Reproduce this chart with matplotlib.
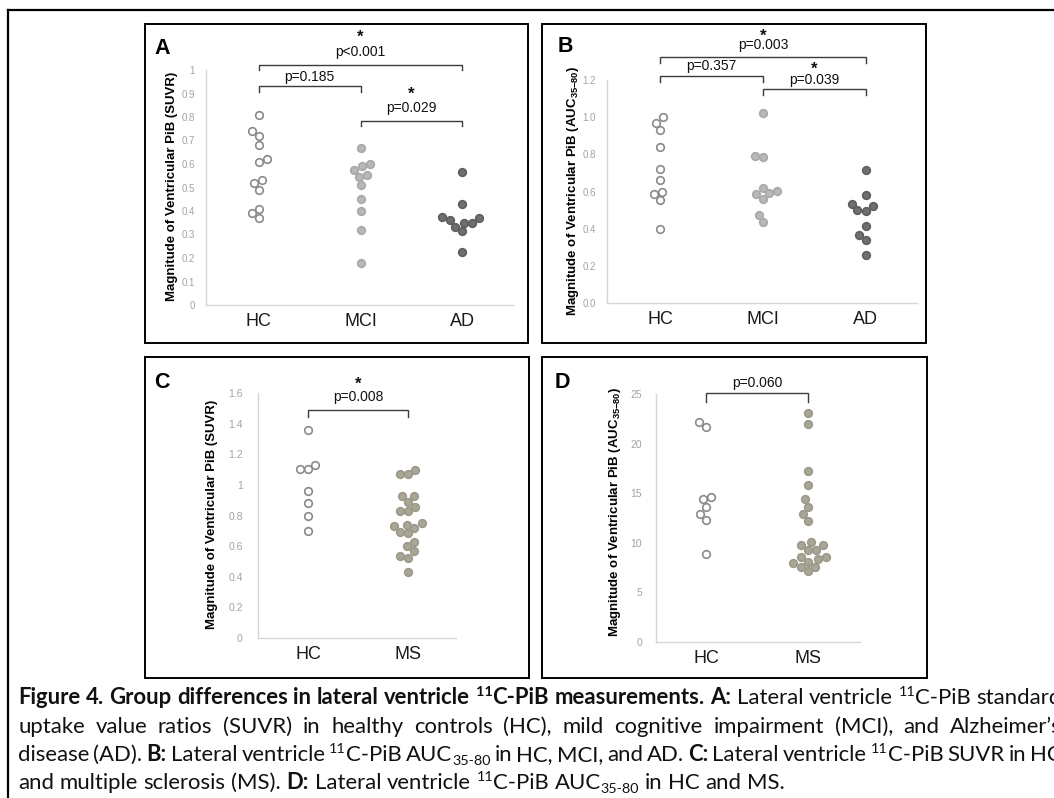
import re
import numpy as np
import matplotlib
matplotlib.use("Agg")
import matplotlib.pyplot as plt
from matplotlib.patches import Rectangle
from matplotlib.lines import Line2D

plt.rcParams['font.family'] = ['Liberation Sans', 'DejaVu Sans']
plt.rcParams['mathtext.fontset'] = 'custom'
plt.rcParams['mathtext.rm'] = 'Liberation Sans'
plt.rcParams['mathtext.bf'] = 'Liberation Sans:bold'

# ---- data ----
ab_groups = ["HC", "MCI", "AD"]
cd_groups = ["HC", "MS"]

a_hc = [0.81, 0.74, 0.72, 0.68, 0.61, 0.62, 0.53, 0.52, 0.49, 0.41, 0.39, 0.37]
a_mci = [0.67, 0.60, 0.59, 0.575, 0.555, 0.545, 0.51, 0.45, 0.40, 0.32, 0.18]
a_ad = [0.565, 0.43, 0.373, 0.369, 0.362, 0.35, 0.35, 0.333, 0.315, 0.224]
a_ticks = [0, 0.1, 0.2, 0.3, 0.4, 0.5, 0.6, 0.7, 0.8, 0.9, 1.0]
a_ticklabels = ["0", "0.1", "0.2", "0.3", "0.4", "0.5", "0.6", "0.7", "0.8", "0.9", "1"]

b_hc = [1.0, 0.97, 0.93, 0.84, 0.72, 0.66, 0.60, 0.585, 0.555, 0.40]
b_mci = [1.02, 0.79, 0.785, 0.62, 0.605, 0.59, 0.585, 0.56, 0.475, 0.435]
b_ad = [0.715, 0.58, 0.535, 0.52, 0.50, 0.495, 0.415, 0.365, 0.34, 0.26]
b_ticks = [0, 0.2, 0.4, 0.6, 0.8, 1.0, 1.2]
b_ticklabels = ["0.0", "0.2", "0.4", "0.6", "0.8", "1.0", "1.2"]

c_hc = [1.36, 1.13, 1.105, 1.105, 0.96, 0.88, 0.80, 0.70]
c_ms = [1.10, 1.07, 1.07, 0.93, 0.93, 0.89, 0.855, 0.83, 0.83, 0.75, 0.74,
        0.73, 0.72, 0.69, 0.685, 0.63, 0.60, 0.565, 0.535, 0.525, 0.43]
c_ticks = [0, 0.2, 0.4, 0.6, 0.8, 1.0, 1.2, 1.4, 1.6]
c_ticklabels = ["0", "0.2", "0.4", "0.6", "0.8", "1", "1.2", "1.4", "1.6"]

d_hc = [22.2, 21.7, 14.6, 14.4, 13.6, 12.9, 12.3, 8.85]
d_ms = [23.1, 22.0, 17.2, 15.8, 14.4, 13.6, 12.9, 12.2, 10.1, 9.8, 9.8, 9.3,
        9.3, 8.6, 8.6, 8.4, 8.1, 8.0, 7.6, 7.6, 7.2]
d_ticks = [0, 5, 10, 15, 20, 25]
d_ticklabels = ["0", "5", "10", "15", "20", "25"]

# comparisons: (group i, group j, p text, significant)
a_tests = [(0, 2, "p<0.001", True), (0, 1, "p=0.185", False), (1, 2, "p=0.029", True)]
b_tests = [(0, 2, "p=0.003", True), (0, 1, "p=0.357", False), (1, 2, "p=0.039", True)]
c_tests = [(0, 1, "p=0.008", True)]
d_tests = [(0, 1, "p=0.060", False)]

# ---- styles ----
HC_STYLE = dict(facecolor="white", edgecolor="#8a8a8a")
MCI_STYLE = dict(facecolor="#b8b8b8", edgecolor="#a9a9a9")
AD_STYLE = dict(facecolor="#6f6f6f", edgecolor="#5e5e5e")
MS_STYLE = dict(facecolor="#aaa696", edgecolor="#9d998a")

W, H = 1054, 798
fig = plt.figure(figsize=(W / 100, H / 100), dpi=100)


def fx(px):
    return px / W


def fy(py):
    return 1 - py / H


def make_axes(l, t, r, b):
    return fig.add_axes([fx(l), fy(b), (r - l) / W, (b - t) / H])


def swarm_x(ax, xc, vals, diam):
    # simple beeswarm in display space, like seaborn's swarm
    pts = ax.transData.transform([(xc, v) for v in vals])
    order = np.argsort(pts[:, 1])
    placed = []
    xs = np.empty(len(vals))
    for i in order:
        x0, y0 = pts[i]
        cands = [x0]
        for px, py in placed:
            dy = y0 - py
            if abs(dy) < diam:
                dx = np.sqrt(diam ** 2 - dy ** 2)
                cands += [px - dx, px + dx]
        cands.sort(key=lambda c: abs(c - x0))
        for c in cands:
            if all((c - px) ** 2 + (y0 - py) ** 2 >= diam ** 2 - 1e-6 for px, py in placed):
                break
        placed.append((c, y0))
        xs[i] = c
    return ax.transData.inverted().transform(np.column_stack([xs, pts[:, 1]]))[:, 0]


def setup_panel(ax, groups, xlim, ylim, ticks, ticklabels, tick_fs, ypad):
    ax.set_xlim(*xlim)
    ax.set_ylim(*ylim)
    for s in ["top", "right"]:
        ax.spines[s].set_visible(False)
    for s in ["left", "bottom"]:
        ax.spines[s].set_color("#d6d6d6")
        ax.spines[s].set_linewidth(1.0)
    ax.set_yticks(ticks, ticklabels)
    ax.set_xticks(range(len(groups)), groups)
    ax.tick_params(axis="y", length=0, pad=ypad, labelsize=tick_fs, labelcolor="#a3a3a3")
    ax.tick_params(axis="x", length=0, pad=6, labelsize=13, labelcolor="#1a1a1a")
    ax.patch.set_alpha(0)


def draw_groups(ax, datasets, styles):
    for i, (vals, st) in enumerate(zip(datasets, styles)):
        xs = swarm_x(ax, i, vals, 8.4)
        ax.scatter(xs, vals, s=30, linewidths=1.2, zorder=3, clip_on=False, **st)


def bracket(ax, i, j, y, drop, label, star, label_y, star_y):
    ax.plot([i, i, j, j], [y - drop, y, y, y - drop], color="#3c3c3c", lw=1.0,
            clip_on=False, solid_joinstyle="miter")
    xm = (i + j) / 2
    ax.text(xm, label_y, label, ha="center", va="center", fontsize=10, color="#111111")
    if star:
        ax.text(xm, star_y, "*", ha="center", va="center", fontsize=12,
                fontweight="bold", color="#111111")


# ---- outer frame and panel boxes ----
fig.add_artist(Line2D([fx(8), fx(1060)], [fy(10), fy(10)], color="black", lw=1.6))
fig.add_artist(Line2D([fx(8), fx(8)], [fy(10), fy(800)], color="black", lw=1.6))
for l, t, r, b in [(145, 24, 528, 343), (542, 24, 926, 343),
                   (145, 357, 529, 678), (542, 357, 927, 678)]:
    fig.add_artist(Rectangle((fx(l), fy(b)), (r - l) / W, (b - t) / H,
                             transform=fig.transFigure, fill=False, lw=1.4, ec="black"))

for letter, x, y in [("A", 162, 49), ("B", 565, 47), ("C", 162, 383), ("D", 562, 383)]:
    fig.text(fx(x), fy(y), letter, fontsize=15.5, fontweight="bold", ha="center", va="center")

ylab_suvr = "Magnitude of Ventricular PiB (SUVR)"
ylab_auc = r"Magnitude of Ventricular PiB (AUC$_{\mathbf{35{-}80}}$)"

# ---- panel A ----
axA = make_axes(206, 70, 513, 305)
setup_panel(axA, ab_groups, (-0.52, 2.5), (0, 1), a_ticks, a_ticklabels, 7, 8)
draw_groups(axA, [a_hc, a_mci, a_ad], [HC_STYLE, MCI_STYLE, AD_STYLE])
a_geom = [(1.021, 0.021, 1.077, 1.14), (0.932, 0.026, 0.970, None), (0.783, 0.021, 0.838, 0.895)]
for (i, j, lab, sig), (y, drop, ly, sy) in zip(a_tests, a_geom):
    bracket(axA, i, j, y, drop, lab, sig, ly, sy)
fig.text(fx(172), fy(186), ylab_suvr, rotation=90, ha="center", va="center",
         fontsize=9.5, fontweight="bold")

# ---- panel B ----
axB = make_axes(607, 80, 917, 303)
setup_panel(axB, ab_groups, (-0.52, 2.5), (0, 1.2), b_ticks, b_ticklabels, 7, 8)
draw_groups(axB, [b_hc, b_mci, b_ad], [HC_STYLE, MCI_STYLE, AD_STYLE])
b_geom = [(1.324, 0.032, 1.389, 1.435), (1.222, 0.033, 1.276, None), (1.152, 0.032, 1.20, 1.26)]
for (i, j, lab, sig), (y, drop, ly, sy) in zip(b_tests, b_geom):
    bracket(axB, i, j, y, drop, lab, sig, ly, sy)
fig.text(fx(573), fy(191), ylab_auc, rotation=90, ha="center", va="center",
         fontsize=9.5, fontweight="bold")

# ---- panel C ----
axC = make_axes(258, 393, 456, 638)
setup_panel(axC, cd_groups, (-0.5, 1.48), (0, 1.6), c_ticks, c_ticklabels, 7.5, 11)
draw_groups(axC, [c_hc, c_ms], [HC_STYLE, MS_STYLE])
c_geom = [(1.489, 0.046, 1.574, 1.66)]
for (i, j, lab, sig), (y, drop, ly, sy) in zip(c_tests, c_geom):
    bracket(axC, i, j, y, drop, lab, sig, ly, sy)
fig.text(fx(212), fy(514), ylab_suvr, rotation=90, ha="center", va="center",
         fontsize=9.5, fontweight="bold")

# ---- panel D ----
axD = make_axes(656, 394, 860, 642)
setup_panel(axD, cd_groups, (-0.49, 1.51), (0, 25), d_ticks, d_ticklabels, 7.5, 10)
draw_groups(axD, [d_hc, d_ms], [HC_STYLE, MS_STYLE])
d_geom = [(25.1, 0.9, 26.1, None)]
for (i, j, lab, sig), (y, drop, ly, sy) in zip(d_tests, d_geom):
    bracket(axD, i, j, y, drop, lab, sig, ly, sy)
fig.text(fx(615), fy(512), ylab_auc, rotation=90, ha="center", va="center",
         fontsize=9.5, fontweight="bold")

# ---- caption (justified, mixed bold / superscript / subscript) ----
cap_lines = [
    ([("Figure 4. Group differences in lateral ventricle ", "b"), ("11", "bsup"),
      ("C-PiB measurements. A:", "b"), (" Lateral ventricle ", "r"), ("11", "sup"),
      ("C-PiB standard", "r")], True),
    ([("uptake value ratios (SUVR) in healthy controls (HC), mild cognitive impairment (MCI), and Alzheimer\u2019s", "r")], True),
    ([("disease (AD). ", "r"), ("B:", "b"), (" Lateral ventricle ", "r"), ("11", "sup"),
      ("C-PiB AUC", "r"), ("35-80", "sub"), (" in HC, MCI, and AD. ", "r"), ("C:", "b"),
      (" Lateral ventricle ", "r"), ("11", "sup"), ("C-PiB SUVR in HC", "r")], True),
    ([("and multiple sclerosis (MS). ", "r"), ("D:", "b"), (" Lateral ventricle ", "r"),
      ("11", "sup"), ("C-PiB AUC", "r"), ("35-80", "sub"), (" in HC and MS.", "r")], False),
]
cap_baselines = [704, 733, 761, 789]
CAP_FS = 15.9
CAP_FONT = ["Lato", "DejaVu Sans"]
renderer = fig.canvas.get_renderer()


def run_props(style):
    size = CAP_FS * (0.65 if style in ("sup", "bsup", "sub") else 1.0)
    weight = "bold" if style in ("b", "bsup") else "normal"
    shift = {"sup": -0.36, "bsup": -0.36, "sub": 0.16}.get(style, 0) * CAP_FS * 100 / 72
    return size, weight, shift


def text_w(s, size, weight):
    t = fig.text(0, 0, s, fontsize=size, fontweight=weight, family=CAP_FONT)
    w = t.get_window_extent(renderer).width
    t.remove()
    return w


tokens_all = []
for runs, just in cap_lines:
    toks = []
    for text, style in runs:
        size, weight, shift = run_props(style)
        for piece in re.split(r"( )", text):
            if piece == "":
                continue
            if piece == " ":
                sw = text_w("x x", size, weight) - text_w("xx", size, weight)
                toks.append(("SP", sw, size, weight, shift))
            else:
                toks.append((piece, text_w(piece, size, weight), size, weight, shift))
    tokens_all.append((toks, just))

x_left, x_right = 18, 1062
for (toks, just), base in zip(tokens_all, cap_baselines):
    natural = sum(t[1] for t in toks)
    n_sp = sum(1 for t in toks if t[0] == "SP")
    extra = (x_right - x_left - natural) / n_sp if (just and n_sp) else 0
    x = x_left
    for word, w, size, weight, shift in toks:
        if word == "SP":
            x += w + extra
            continue
        fig.text(fx(x), fy(base + shift), word, fontsize=size, fontweight=weight,
                 family=CAP_FONT, ha="left", va="baseline", color="#111111")
        x += w

fig.savefig("out.png", dpi=100)
